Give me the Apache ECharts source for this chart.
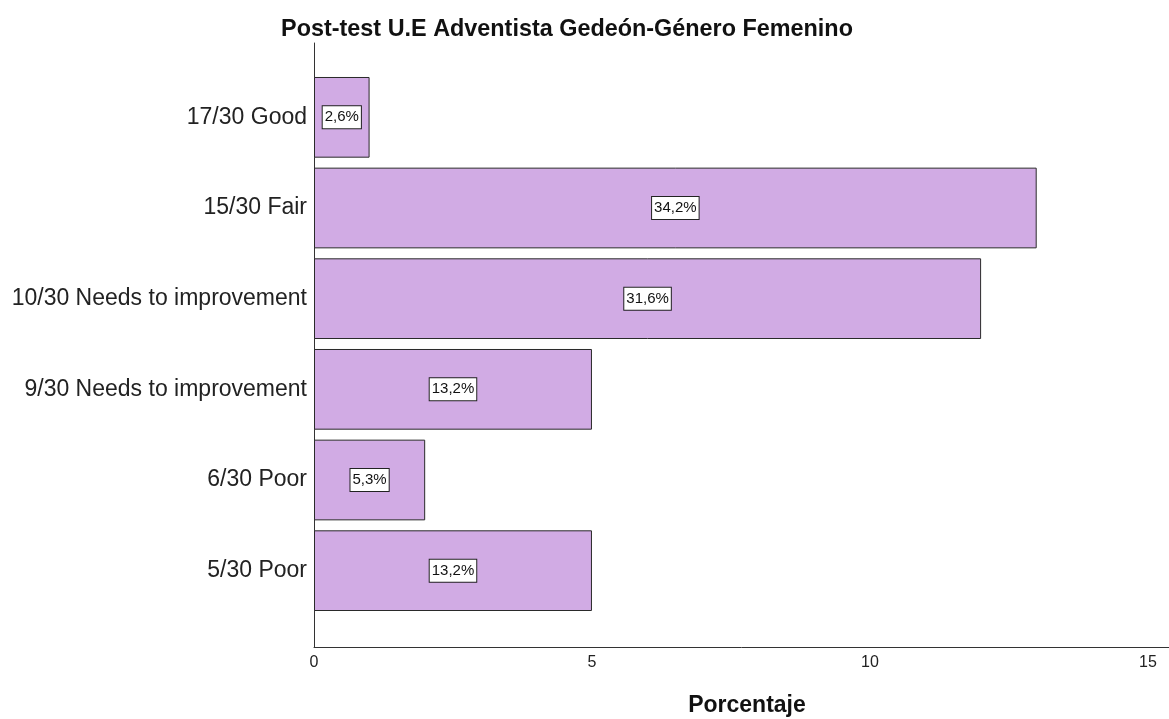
<!DOCTYPE html>
<html>
<head>
<meta charset="utf-8">
<script src="https://cdn.jsdelivr.net/npm/echarts@6/dist/echarts.min.js"></script>
<style>
html,body{margin:0;padding:0;background:#fff;}
#chart{width:1169px;height:719px;}
</style>
</head>
<body>
<div id="chart"></div>
<script>
var categories = ['17/30 Good', '15/30 Fair', '10/30 Needs to improvement', '9/30 Needs to improvement', '6/30 Poor', '5/30 Poor'];
var counts = [1, 13, 12, 5, 2, 5];
var pctLabels = ['2,6%', '34,2%', '31,6%', '13,2%', '5,3%', '13,2%'];
var xTicks = [0, 5, 10, 15];

var font = 'Liberation Sans, Arial, sans-serif';
var myChart = echarts.init(document.getElementById('chart'));
var option = {
    animation: false,
    title: {
        text: 'Post-test U.E Adventista Gedeón-Género Femenino',
        left: 562,
        textAlign: 'center',
        top: 13,
        textStyle: {fontFamily: font, fontSize: 23.4, fontWeight: 'bold', color: '#111'}
    },
    grid: [
        // outer frame: axis lines + labels
        {left: 314, right: 0, top: 43, bottom: 72, outerBoundsMode: 'none'},
        // bars
        {left: 314, right: 0, top: 72, bottom: 103, outerBoundsMode: 'none'}
    ],
    xAxis: [
        {
            gridIndex: 0,
            type: 'value',
            min: 0,
            max: 15.38,
            interval: 5,
            splitLine: {show: false},
            axisTick: {show: false},
            axisLine: {show: true, lineStyle: {color: '#333', width: 1}},
            axisLabel: {
                fontFamily: font, fontSize: 16, color: '#222', margin: 8,
                showMaxLabel: false,
                formatter: function (v) { return xTicks.indexOf(v) >= 0 ? v : ''; }
            },
            name: 'Porcentaje',
            nameLocation: 'middle',
            nameGap: 47,
            nameTextStyle: {fontFamily: font, fontSize: 23, fontWeight: 'bold', color: '#111', padding: [0, 0, 0, 11]}
        },
        {
            gridIndex: 1,
            type: 'value',
            min: 0,
            max: 15.38,
            show: false
        }
    ],
    yAxis: [
        {
            gridIndex: 0,
            type: 'value',
            min: 0,
            max: 1,
            axisLine: {show: true, lineStyle: {color: '#333', width: 1}},
            axisTick: {show: false},
            axisLabel: {show: false},
            splitLine: {show: false}
        },
        {
            gridIndex: 1,
            type: 'category',
            inverse: true,
            data: categories,
            axisLine: {show: false},
            axisTick: {show: false},
            axisLabel: {fontFamily: font, fontSize: 23, color: '#222', margin: 7}
        }
    ],
    series: [
        {
            type: 'bar',
            xAxisIndex: 1,
            yAxisIndex: 1,
            barCategoryGap: '11%',
            data: counts,
            itemStyle: {color: '#d1abe4', borderColor: '#2a2a2a', borderWidth: 1},
            label: {
                show: true,
                position: 'inside',
                formatter: function (p) { return pctLabels[p.dataIndex]; },
                fontFamily: font,
                fontSize: 15,
                color: '#111',
                backgroundColor: '#fff',
                borderColor: '#222',
                borderWidth: 1,
                padding: [4, 2, 3, 2]
            }
        }
    ]
};
myChart.setOption(option);
</script>
</body>
</html>
